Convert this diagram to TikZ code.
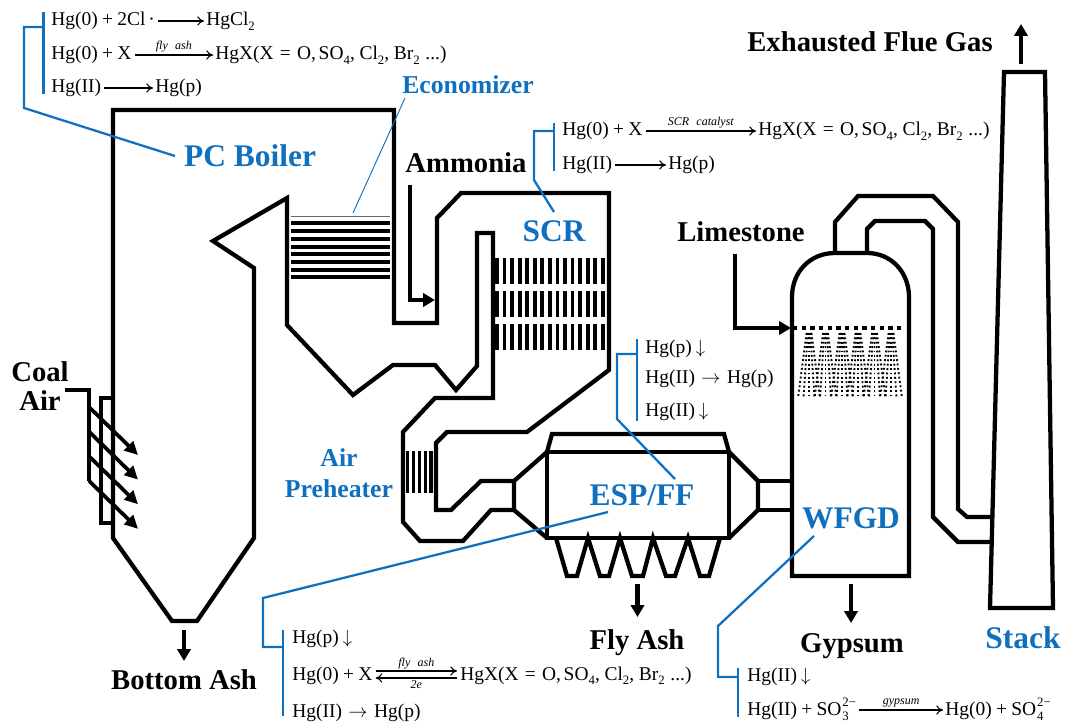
\documentclass[tikz,border=0pt]{standalone}
\usepackage{fontspec}
\setmainfont{Liberation Serif}
\usetikzlibrary{arrows.meta}
\definecolor{leadblue}{HTML}{0F70BF}
\newcommand\pl{\hspace{.22em}+\hspace{.22em}}
\newcommand\sbs[1]{\raisebox{-0.55ex}{\fontsize{9.6pt}{10pt}\selectfont #1}}
\newcommand\ssp[2]{\hspace{.05em}\rlap{\raisebox{-0.65ex}{\fontsize{9.6pt}{10pt}\selectfont #1}}\raisebox{0.95ex}{\fontsize{9.6pt}{10pt}\selectfont #2}}
\newcommand\hgx{HgX(X\hspace{.32em}=\hspace{.32em}O,\hspace{.14em}SO\sbs{4},\hspace{.24em}Cl\sbs{2},\hspace{.24em}Br\sbs{2}\hspace{.29em}...)}
\newcommand\dn{\hspace{.2em}$\downarrow$}
\newcommand\rt{\hspace{.33em}$\rightarrow$\hspace{.33em}}
\tikzset{
  wall/.style={line width=3.2pt,line join=miter,draw=black},
  feed/.style={line width=3.2pt,-{Triangle[length=9pt,width=10pt]}},
  lab/.style={font=\fontsize{21.5pt}{24pt}\selectfont\bfseries,inner sep=0pt},
  blab/.style={font=\fontsize{23.6pt}{26pt}\selectfont\bfseries,text=leadblue,inner sep=0pt},
  bsm/.style={font=\fontsize{19.3pt}{23.3pt}\selectfont\bfseries,text=leadblue,inner sep=0pt,align=center},
  fm/.style={font=\fontsize{14.6pt}{16pt}\selectfont,inner sep=0pt,anchor=base west},
  cat/.style={font=\fontsize{9pt}{9pt}\selectfont\itshape,inner sep=1.5pt,above,midway},
  rxn/.style={line width=.8pt,-{To[length=5pt,width=7pt]}},
  lead/.style={draw=leadblue,line width=1.7pt,line join=miter},
  bar/.style={fill=black,draw=none}
}
\newcommand\rx[2]{([shift={(3,-5)}]#1.base east) -- ([shift={(-2,-5)}]#2.base west)}
\begin{document}
\begin{tikzpicture}[x=0.75pt,y=-0.75pt]
\useasboundingbox (0,0) rectangle (1067,727);
% Economizer
\draw[line width=.75pt,draw=black!60] (291,217) -- (390,217);
\foreach \y in {222.7,230.7,238.7,246.7,254.2,261.7,270,277.3}
  \fill[bar] (291,\y-2) rectangle (390,\y+2);
% SCR bars
\foreach \ya/\yb in {258/284,291/317,324/350}
  \foreach \i in {0,...,14}
    \fill[bar] ({497+7.55*\i-1.9},\ya) rectangle ({497+7.55*\i+1.9},\yb);
% Air preheater bars
\foreach \x in {407.5,413.5,419.5,425.5,431}
  \fill[bar] (\x-1.6,451) rectangle (\x+1.6,493);
% Boiler and ducts
\draw[wall] (113,110) -- (394,110) -- (394,323) -- (437,323) -- (437,218) -- (461,193) -- (609,193) -- (609,370) -- (527,432) -- (447,432) -- (436,443) -- (436,510) -- (451,510) -- (481,481) -- (514,481) -- (514,510) -- (491,510) -- (463,541) -- (420,541) -- (403,522) -- (403,432) -- (435,398) -- (493,398) -- (493,233) -- (477,233) -- (477,366) -- (456,390) -- (435,365) -- (393,365) -- (353,395) -- (287,325) -- (287,198) -- (213,241) -- (254,268) -- (254,538) -- (197,621) -- (172,621) -- (113,538) -- cycle;
% burners
\draw[wall] (113,398) -- (101,398) -- (101,523) -- (113,523);
\coordinate (coal0) at (65,390);
\coordinate (coal1) at (89,390);
\coordinate (coal2) at (89,481);
\draw[wall] (coal0) -- (coal1) -- (coal2);
\foreach \i in {0,1,2,3}
  \draw[line width=2.8pt,-{Triangle[length=10pt,width=9.5pt]}] (89,{407+24.6*\i}) -- (138,{455+24.6*\i});
% ESP
\draw[wall] (547,452) rectangle (729,538);
\draw[wall] (547,452) -- (552,434) -- (724,434) -- (729,452);
\draw[wall] (514,481) -- (547,452);
\draw[wall] (514,510) -- (547,538);
\draw[wall] (729,452) -- (758,481) -- (758,510) -- (729,538);
\draw[wall] (758,481) -- (793,481);
\draw[wall] (758,510) -- (793,510);
\draw[wall] (556,538) -- (567,576) -- (577,576) -- (588,538) -- (600,576) -- (609,576) -- (620,538) -- (632,576) -- (643,576) -- (653,538) -- (666,576) -- (675,576) -- (688,538) -- (700,576) -- (709,576) -- (720,538);
% WFGD
\draw[wall] (835,253) .. controls (810,253) and (792,272) .. (792,297) -- (792,576) -- (909,576) -- (909,297) .. controls (909,272) and (891,253) .. (867,253) -- cycle;
\draw[wall] (835,253) -- (835,222) -- (858,196) -- (933,196) -- (958,222) -- (958,509) -- (967,517) -- (991,517);
\draw[wall] (867,253) -- (867,229) -- (875,221) -- (925,221) -- (933,229) -- (933,517) -- (958,542) -- (991,542);
% Stack
\draw[wall] (1004,72) -- (1045,72) -- (1053,608) -- (990,608) -- cycle;
% Spray
\draw[line width=3.2pt,dash pattern=on 3.2pt off 3.3pt] (793,328) -- (904,328);
\foreach \x in {809,825.5,842,858,874.5,891}
  \foreach \d in {-11,-5.5,0,5.5,11}
    \draw[line width=1.4pt,dash pattern=on 1.4pt off 1.9pt] ({\x+\d*.22},333) -- (\x+\d,398);
% Feed arrows
\coordinate (amm1) at (410,185); \coordinate (amm2) at (410,300); \coordinate (amm3) at (435,300);
\draw[feed] (amm1) -- (amm2) -- (amm3);
\coordinate (lim1) at (735,254); \coordinate (lim2) at (735,328); \coordinate (lim3) at (791,328);
\draw[feed] (lim1) -- (lim2) -- (lim3);
\coordinate (ba1) at (184,630); \coordinate (ba2) at (184,661);
\draw[feed] (ba1) -- (ba2);
\coordinate (fa1) at (637.5,584); \coordinate (fa2) at (637.5,617);
\draw[feed] (fa1) -- (fa2);
\coordinate (gy1) at (851,584); \coordinate (gy2) at (851,623);
\draw[feed] (gy1) -- (gy2);
\coordinate (ex1) at (1021,64); \coordinate (ex2) at (1021,24);
\draw[feed] (ex1) -- (ex2);
% Black labels
\node[lab] (coal) at (40,372) {Coal};
\node[lab] (air) at (40,401) {Air};
\node[lab] (ammonia) at (466,162.5) {Ammonia};
\node[lab] (limestone) at (741,232) {Limestone};
\node[lab] (exh) at (870,42) {Exhausted Flue Gas};
\node[lab] (bash) at (184,680) {Bottom Ash};
\node[lab] (flyash) at (637,643) {Fly Ash};
\node[lab] (gypsum) at (852,646) {Gypsum};
% Blue labels
\node[blab] (pcb) at (250,156) {PC Boiler};
\node[bsm] (eco) at (468,84.5) {Economizer};
\node[blab] (scr) at (554,231) {SCR};
\node[bsm] (aph) at (339,473) {Air\\Preheater};
\node[blab] (esp) at (642,495) {ESP/FF};
\node[blab] (wfgd) at (851,518) {WFGD};
\node[blab] (stack) at (1023,638) {Stack};
% Leaders
\draw[lead] (43.5,12) -- (43.5,94);
\draw[lead] (43.5,27) -- (24,27) -- (24,108) -- (175,156);
\draw[draw=leadblue,line width=.7pt] (405,98) -- (353,213);
\draw[lead] (554,123) -- (554,171);
\draw[lead] (554,131) -- (534,131) -- (534,180) -- (554,212);
\draw[lead] (637,339) -- (637,421);
\draw[lead] (637,354) -- (617,354) -- (617,419) -- (675,479);
\draw[lead] (283,630) -- (283,716);
\draw[lead] (283,647) -- (263,647) -- (263,598) -- (608,512);
\draw[lead] (738,668) -- (738,717);
\draw[lead] (738,677) -- (718,677) -- (718,626) -- (814,536);
% Boiler formulas
\node[fm] (a1) at (51,26) {Hg(0)\pl 2Cl\hspace{.15em}·};
\node[fm] (a2) at (206,26) {HgCl\sbs{2}};
\draw[rxn] \rx{a1}{a2};
\node[fm] (b1) at (51,60) {Hg(0)\pl X};
\node[fm] (b2) at (215,60) {\hgx};
\draw[rxn] \rx{b1}{b2} node[cat] (b3) {fly\hspace{.6em}ash};
\node[fm] (c1) at (51,93) {Hg(II)};
\node[fm] (c2) at (155,93) {Hg(p)};
\draw[rxn] \rx{c1}{c2};
% SCR formulas
\node[fm] (d1) at (562,136) {Hg(0)\pl X};
\node[fm] (d2) at (758,136) {\hgx};
\draw[rxn] \rx{d1}{d2} node[cat] (d3) {SCR\hspace{.6em}catalyst};
\node[fm] (e1) at (562,170) {Hg(II)};
\node[fm] (e2) at (668,170) {Hg(p)};
\draw[rxn] \rx{e1}{e2};
% ESP upper formulas
\node[fm] (f1) at (645,353) {Hg(p)\dn};
\node[fm] (f2) at (645,383) {Hg(II)\rt Hg(p)};
\node[fm] (f3) at (645,416) {Hg(II)\dn};
% ESP lower formulas
\node[fm] (g1) at (292,643) {Hg(p)\dn};
\node[fm] (g2) at (292,680) {Hg(0)\pl X};
\node[fm] (g3) at (460,680) {\hgx};
\draw[rxn] ([shift={(3,-9)}]g2.base east) -- node[cat,inner sep=1pt] (g4) {fly\hspace{.6em}ash} ([shift={(-3,-9)}]g3.base west);
\draw[rxn] ([shift={(-3,-2)}]g3.base west) -- node[cat,below,inner sep=1.5pt] (g5) {2\textit{e}} ([shift={(3,-2)}]g2.base east);
\node[fm] (g6) at (292,717) {Hg(II)\rt Hg(p)};
% WFGD formulas
\node[fm] (h1) at (747,681) {Hg(II)\dn};
\node[fm] (h2) at (747,715) {Hg(II)\pl SO\ssp{3}{2−}};
\node[fm] (h3) at (945,715) {Hg(0)\pl SO\ssp{4}{2−}};
\draw[rxn] \rx{h2}{h3} node[cat] (h4) {gypsum};
\end{tikzpicture}
\end{document}
